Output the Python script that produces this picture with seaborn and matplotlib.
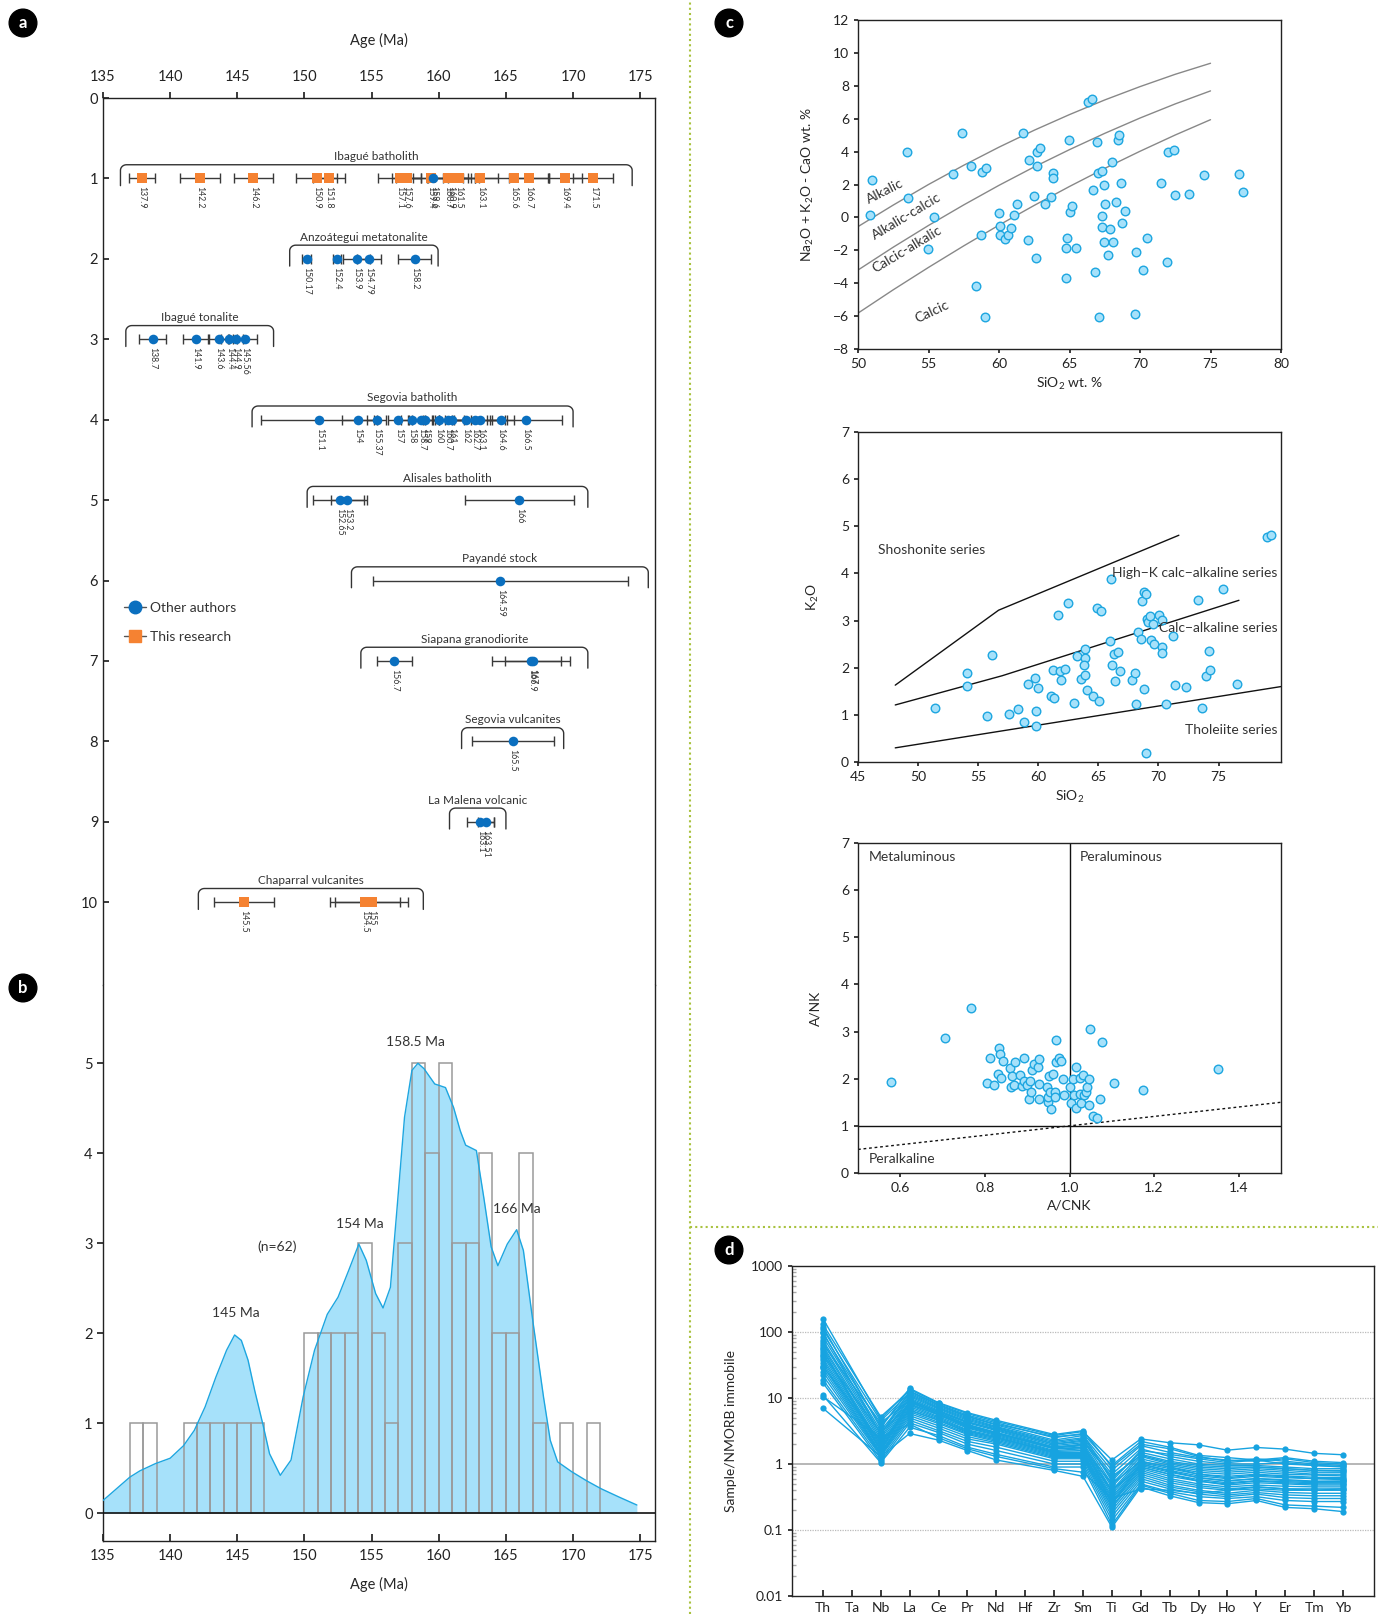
import numpy as np
import pandas as pd
import matplotlib
matplotlib.use("Agg")
import matplotlib.pyplot as plt
import seaborn as sns
from matplotlib.lines import Line2D

# ---------------- data: panel a (geochronology) ----------------
group_names = ["Ibagué batholith", "Anzoátegui metatonalite", "Ibagué tonalite",
               "Segovia batholith", "Alisales batholith", "Payandé stock",
               "Siapana granodiorite", "Segovia vulcanites", "La Malena volcanic",
               "Chaparral vulcanites"]
group_rows = [1, 2, 3, 4, 5, 6, 7, 8, 9, 10]
group_lo = [136.3, 148.9, 136.7, 146.1, 150.2, 153.5, 154.2, 161.7, 160.8, 142.1]
group_hi = [174.4, 159.95, 147.7, 170.0, 171.1, 175.6, 171.1, 169.3, 165.0, 158.85]

sample_group = [0]*17 + [1]*5 + [2]*6 + [3]*15 + [4]*3 + [5] + [6]*3 + [7] + [8]*2 + [9]*3
sample_age = [137.9, 142.2, 146.2, 150.9, 151.8, 157.1, 157.6, 159.4, 159.6, 160.7, 160.9,
              161.5, 163.1, 165.6, 166.7, 169.4, 171.5,
              150.17, 152.4, 153.9, 154.79, 158.2,
              138.7, 141.9, 143.6, 144.4, 144.9, 145.56,
              151.1, 154, 155.37, 157, 158, 158.7, 159, 160, 160.7, 161, 162, 162.7, 163.1,
              164.6, 166.5,
              152.65, 153.2, 166,
              164.59,
              156.7, 166.9, 167,
              165.5,
              163.1, 163.51,
              145.5, 154.5, 155]
sample_err = [1.0, 1.5, 1.45, 1.5, 1.2, 1.6, 1.1, 1.3, 2.8, 1.5, 1.8,
              1.2, 1.3, 2.6, 1.5, 1.3, 1.5,
              0.35, 0.3, 1.0, 0.9, 1.25,
              1.0, 0.95, 0.7, 0.6, 0.5, 0.9,
              4.3, 1.2, 0.7, 0.8, 0.8, 1.0, 1.0, 1.0, 1.2, 1.4, 2.0, 2.2, 2.0,
              1.0, 2.7,
              2.0, 1.25, 4.05,
              9.5,
              1.3, 2.9, 2.1,
              3.05,
              1.0, 0.6,
              2.2, 2.6, 2.7]
sample_src = (["T"]*8 + ["O"] + ["T"]*8 + ["O"]*5 + ["O"]*6 + ["O"]*15 + ["O"]*3 + ["O"]
              + ["O"]*3 + ["O"] + ["O"]*2 + ["T"]*3)

# ---------------- data: panel b (histogram + probability curve) ----------------
hist_bin_left = list(range(137, 172))
hist_counts = [1, 1, 0, 0, 1, 1, 1, 1, 1, 1, 0, 0, 0, 2, 2, 2, 2, 3, 2, 1, 3, 5, 4, 5,
               3, 3, 4, 2, 2, 4, 1, 0, 1, 0, 1]
kde_age = [135.0, 137.0, 137.75, 138.9, 140.0, 141.0, 141.8, 142.6, 143.4, 144.2, 144.8,
           145.3, 145.8, 146.3, 146.9, 147.4, 148.2, 149.0, 149.9, 150.75, 151.7, 152.5,
           153.3, 154.05, 154.6, 155.3, 155.85, 156.4, 156.9, 157.45, 158.0, 158.45,
           158.9, 159.7, 160.5, 161.1, 161.6, 162.0, 162.8, 163.35, 163.9, 164.4, 165.1,
           165.8, 166.3, 167.0, 167.8, 168.3, 168.85, 169.9, 171.0, 172.1, 173.4, 174.75]
kde_val = [0.14, 0.40, 0.47, 0.55, 0.61, 0.75, 0.92, 1.18, 1.51, 1.81, 1.98,
           1.92, 1.70, 1.36, 0.99, 0.66, 0.42, 0.59, 1.29, 1.81, 2.21, 2.40,
           2.70, 2.99, 2.81, 2.44, 2.28, 2.51, 3.40, 4.40, 4.92, 5.0,
           4.94, 4.77, 4.73, 4.51, 4.25, 4.09, 4.03, 3.51, 2.96, 2.75, 2.99,
           3.15, 2.92, 2.14, 1.29, 0.81, 0.57, 0.46, 0.36, 0.27, 0.18, 0.09]
peak_labels = ["145 Ma", "154 Ma", "158.5 Ma", "166 Ma", "(n=62)"]
peak_x = [144.9, 154.1, 158.3, 165.8, 148.0]
peak_y = [2.16, 3.15, 5.17, 3.31, 2.89]

# ---------------- data: panel c top (MALI) ----------------
mali_x = [50.83, 51.0, 53.48, 53.57, 54.99, 55.42, 56.72, 57.40, 58.0, 58.35, 58.78, 58.75,
          59.06, 59.04, 59.98, 60.08, 60.08, 60.41, 60.65, 60.86, 61.07, 61.31, 61.73, 62.07,
          62.16, 62.51, 62.61, 62.66, 62.70, 62.92, 63.25, 63.72, 63.86, 63.86, 64.72, 64.72,
          64.81, 64.93, 65.07, 65.21, 65.45, 66.30, 66.58, 66.68, 66.84, 66.92, 66.99, 67.08,
          67.27, 67.29, 67.34, 67.46, 67.48, 67.53, 67.74, 67.88, 67.98, 68.12, 68.29, 68.43,
          68.48, 68.62, 68.69, 68.97, 69.64, 69.71, 70.18, 70.53, 71.46, 71.88, 72.00, 72.43,
          72.45, 73.44, 74.53, 76.99, 77.28]
mali_y = [0.16, 2.28, 3.96, 1.19, -1.91, 0.04, 2.61, 5.12, 3.11, -4.15, 2.77, -1.06,
          3.03, -6.08, 0.24, -0.55, -1.04, -1.30, -1.06, -0.63, 0.12, 0.81, 5.14, -1.40,
          3.46, 1.31, -2.45, 3.98, 3.15, 4.23, 0.83, 1.27, 2.67, 2.42, -3.67, -1.89,
          -1.28, 4.69, 0.32, 0.72, -1.87, 7.02, 7.20, 1.64, -3.30, 4.57, 2.67, -6.06,
          -0.57, 2.85, 0.06, -1.50, 1.96, 0.83, -2.31, -0.69, 3.34, -1.52, 0.93, 4.71,
          4.98, 2.10, -0.33, 0.38, -5.87, -2.11, -3.18, -1.24, 2.08, -2.70, 3.96, 4.10,
          1.37, 1.45, 2.59, 2.63, 1.53]
mali_line_x = [50, 52.5, 55, 57.5, 60, 62.5, 65, 67.5, 70, 72.5, 75]
mali_alkalic = [-0.56, 0.75, 2.0, 3.17, 4.27, 5.3, 6.25, 7.14, 7.95, 8.7, 9.37]
mali_alkcalc = [-3.2, -1.81, -0.49, 0.76, 1.95, 3.07, 4.12, 5.11, 6.04, 6.9, 7.69]
mali_calcalk = [-5.82, -4.4, -3.04, -1.73, -0.47, 0.73, 1.88, 2.98, 4.02, 5.01, 5.94]
mali_names = ["Alkalic", "Alkalic-calcic", "Calcic-alkalic", "Calcic"]
mali_name_x = [51.94, 53.43, 53.48, 55.28]
mali_name_y = [1.57, 0.06, -1.97, -5.71]
mali_name_rot = [27, 31, 31, 25]

# ---------------- data: panel c middle (K2O vs SiO2) ----------------
k2o_x = [51.39, 54.03, 54.11, 55.72, 56.14, 57.53, 58.33, 58.83, 59.17, 59.75, 59.81, 59.83,
         59.97, 61.03, 61.25, 61.31, 61.61, 61.81, 61.92, 62.22, 62.5, 62.97, 63.22, 63.56,
         63.86, 63.86, 63.83, 63.86, 64.03, 64.56, 64.86, 65.08, 65.22, 65.97, 66.08, 66.11,
         66.33, 66.42, 66.61, 66.78, 67.78, 68.06, 68.17, 68.28, 68.58, 68.61, 68.78, 68.81,
         68.94, 69.0, 69.06, 69.11, 69.28, 69.42, 69.53, 69.61, 70.06, 70.28, 70.31, 70.33,
         70.61, 71.25, 71.42, 72.31, 73.28, 73.64, 73.92, 74.17, 74.31, 75.36, 76.5, 79.0,
         79.36]
k2o_y = [1.14, 1.62, 1.89, 0.97, 2.28, 1.02, 1.13, 0.84, 1.66, 1.79, 1.09, 0.76,
         1.58, 1.40, 1.96, 1.35, 3.11, 1.94, 1.75, 1.97, 3.38, 1.26, 2.25, 1.77,
         2.40, 2.20, 2.05, 1.84, 1.53, 1.39, 3.26, 1.30, 3.20, 2.56, 3.89, 2.05,
         2.30, 1.71, 2.34, 1.93, 1.73, 1.89, 1.23, 2.76, 2.60, 3.41, 1.55, 3.61,
         0.20, 3.56, 3.03, 2.96, 3.09, 2.58, 2.92, 2.51, 3.11, 3.02, 2.45, 2.32,
         1.23, 2.68, 1.63, 1.60, 3.43, 1.14, 1.82, 2.35, 1.96, 3.66, 1.65, 4.77,
         4.82]
sho_line_x = [48.1, 56.7, 71.7]
sho_line_y = [1.63, 3.22, 4.81]
hik_line_x = [48.1, 57.0, 76.7]
hik_line_y = [1.21, 1.83, 3.43]
tho_line_x = [48.1, 80.2]
tho_line_y = [0.30, 1.60]

# ---------------- data: panel c bottom (Shand) ----------------
acnk = [0.577, 0.705, 0.768, 0.805, 0.812, 0.822, 0.830, 0.834, 0.835, 0.838, 0.843, 0.860,
        0.862, 0.865, 0.868, 0.870, 0.882, 0.888, 0.892, 0.892, 0.900, 0.904, 0.906, 0.910,
        0.911, 0.915, 0.925, 0.928, 0.928, 0.929, 0.946, 0.949, 0.950, 0.951, 0.953, 0.956,
        0.961, 0.965, 0.965, 0.967, 0.969, 0.976, 0.981, 0.984, 0.987, 1.002, 1.003, 1.008,
        1.011, 1.015, 1.016, 1.024, 1.026, 1.028, 1.031, 1.034, 1.038, 1.042, 1.045, 1.045,
        1.049, 1.056, 1.064, 1.073, 1.078, 1.105, 1.173, 1.351]
ank = [1.93, 2.86, 3.49, 1.91, 2.44, 1.86, 2.10, 2.66, 2.52, 2.01, 2.38, 2.23,
       1.82, 2.05, 1.87, 2.36, 2.07, 1.84, 2.44, 1.96, 1.87, 1.58, 1.96, 1.72,
       2.19, 2.31, 2.25, 2.42, 1.88, 1.58, 1.82, 1.50, 1.61, 2.06, 1.72, 1.36,
       2.10, 1.72, 1.62, 2.35, 2.83, 2.43, 2.38, 1.99, 1.66, 1.83, 1.48, 1.99,
       1.66, 2.25, 1.37, 2.02, 1.67, 1.48, 2.07, 1.65, 1.72, 1.83, 1.99, 1.44,
       3.05, 1.20, 1.16, 1.57, 2.78, 1.91, 1.77, 2.21]
shand_diag_x = [0.5, 1.5]
shand_diag_y = [0.5, 1.5]

# ---------------- data: panel d (spider diagram) ----------------
elements = ["Th", "Ta", "Nb", "La", "Ce", "Pr", "Nd", "Hf", "Zr", "Sm", "Ti", "Gd", "Tb",
            "Dy", "Ho", "Y", "Er", "Tm", "Yb"]
measured = ["Th", "Nb", "La", "Ce", "Pr", "Nd", "Zr", "Sm", "Ti", "Gd", "Tb", "Dy", "Ho",
            "Y", "Er", "Tm", "Yb"]
spider_samples = [
    [160, 4.8, 13.5, 8.3, 5.8, 4.4, 2.7, 3.1, 1.15, 2.4, 2.1, 1.95, 1.62, 1.78, 1.68, 1.45, 1.38],
    [130, 5.2, 12.8, 8.0, 5.5, 4.2, 2.5, 2.9, 0.95, 2.2, 1.8, 1.35, 1.25, 1.15, 1.25, 1.1, 1.05],
    [110, 4.5, 12.0, 7.5, 5.2, 3.9, 2.3, 2.7, 0.8, 1.9, 1.5, 1.25, 1.15, 1.1, 1.2, 1.05, 1.0],
    [95, 3.8, 11.5, 7.2, 5.0, 3.7, 2.2, 2.5, 0.7, 1.7, 1.3, 1.1, 1.0, 1.0, 1.05, 0.95, 0.92],
    [85, 3.2, 11.0, 7.0, 4.8, 3.6, 2.1, 2.4, 0.6, 1.5, 1.2, 1.0, 0.95, 0.95, 0.9, 0.85, 0.85],
    [75, 2.9, 10.5, 6.8, 4.6, 3.5, 2.0, 2.3, 0.5, 1.4, 1.1, 0.95, 0.9, 0.9, 0.85, 0.8, 0.8],
    [70, 2.6, 10.0, 6.5, 4.4, 3.3, 1.9, 2.1, 0.45, 1.3, 1.0, 0.85, 0.8, 0.85, 0.8, 0.75, 0.75],
    [62, 2.4, 9.6, 6.2, 4.2, 3.2, 1.8, 2.0, 0.4, 1.2, 0.95, 0.8, 0.75, 0.8, 0.75, 0.7, 0.7],
    [58, 2.2, 9.0, 6.0, 4.0, 3.0, 1.75, 1.9, 0.38, 1.1, 0.9, 0.75, 0.7, 0.75, 0.7, 0.68, 0.66],
    [52, 2.0, 8.6, 5.7, 3.8, 2.9, 1.7, 1.8, 0.35, 1.05, 0.85, 0.7, 0.65, 0.7, 0.66, 0.63, 0.62],
    [48, 1.9, 8.2, 5.5, 3.6, 2.8, 1.6, 1.7, 0.32, 1.0, 0.8, 0.66, 0.6, 0.65, 0.62, 0.6, 0.58],
    [44, 1.8, 7.8, 5.2, 3.5, 2.7, 1.55, 1.6, 0.3, 0.95, 0.75, 0.62, 0.56, 0.6, 0.58, 0.55, 0.55],
    [40, 1.7, 7.4, 5.0, 3.3, 2.6, 1.5, 1.5, 0.28, 0.9, 0.7, 0.58, 0.52, 0.56, 0.54, 0.52, 0.52],
    [37, 1.6, 7.0, 4.8, 3.2, 2.5, 1.45, 1.45, 0.26, 0.85, 0.65, 0.55, 0.48, 0.52, 0.5, 0.48, 0.48],
    [34, 1.5, 6.6, 4.6, 3.0, 2.4, 1.4, 1.4, 0.25, 0.8, 0.6, 0.5, 0.45, 0.48, 0.46, 0.45, 0.45],
    [31, 1.45, 6.2, 4.3, 2.9, 2.3, 1.35, 1.35, 0.23, 0.75, 0.56, 0.47, 0.42, 0.45, 0.42, 0.42, 0.42],
    [28, 1.4, 5.8, 4.1, 2.8, 2.2, 1.3, 1.3, 0.22, 0.7, 0.52, 0.44, 0.4, 0.42, 0.4, 0.4, 0.4],
    [25, 1.35, 5.4, 3.8, 2.6, 2.1, 1.25, 1.25, 0.2, 0.65, 0.48, 0.4, 0.36, 0.4, 0.37, 0.36, 0.36],
    [22, 1.3, 5.0, 3.5, 2.4, 2.0, 1.2, 1.2, 0.18, 0.6, 0.45, 0.38, 0.34, 0.37, 0.34, 0.33, 0.33],
    [19, 1.2, 4.6, 3.2, 2.2, 1.8, 1.1, 1.1, 0.16, 0.55, 0.42, 0.35, 0.32, 0.35, 0.31, 0.3, 0.3],
    [17, 1.1, 4.2, 3.0, 2.0, 1.6, 1.0, 1.0, 0.14, 0.5, 0.38, 0.32, 0.3, 0.32, 0.28, 0.27, 0.27],
    [11, 1.05, 3.6, 2.7, 1.8, 1.4, 0.9, 0.9, 0.12, 0.48, 0.36, 0.28, 0.27, 0.3, 0.24, 0.23, 0.22],
    [7, 1.3, 2.9, 2.3, 1.6, 1.15, 0.8, 0.65, 0.11, 0.45, 0.33, 0.26, 0.25, 0.28, 0.22, 0.21, 0.19],
    [10.5, 2.5, 4.0, 2.5, 1.7, 1.3, 0.85, 0.75, 0.3, 0.42, 0.4, 0.36, 0.4, 0.45, 0.42, 0.4, 0.42],
    [120, 3.5, 14, 8.5, 6.0, 4.6, 2.8, 3.2, 0.9, 2.0, 1.7, 1.3, 1.1, 1.2, 1.1, 1.0, 0.95],
    [100, 2.8, 12.5, 7.8, 5.3, 4.0, 2.6, 2.8, 0.55, 1.6, 1.4, 1.2, 1.05, 1.15, 1.0, 0.95, 0.9],
    [65, 4.2, 9.2, 6.3, 4.3, 3.4, 2.0, 2.2, 0.65, 1.35, 1.05, 0.9, 0.85, 0.9, 0.85, 0.8, 0.78],
    [45, 3.0, 8.0, 5.6, 3.7, 2.9, 1.7, 1.75, 0.5, 1.1, 0.9, 0.7, 0.62, 0.68, 0.64, 0.6, 0.6],
    [30, 2.2, 6.5, 4.6, 3.1, 2.5, 1.5, 1.5, 0.4, 0.9, 0.7, 0.55, 0.5, 0.55, 0.52, 0.5, 0.5],
    [55, 1.6, 8.8, 5.9, 3.9, 3.0, 1.8, 1.95, 0.25, 1.0, 0.78, 0.62, 0.55, 0.6, 0.56, 0.54, 0.55],
]

# ---------------- style ----------------
sns.set_theme(style="ticks")
plt.rcParams["font.family"] = ["Lato", "DejaVu Sans"]
plt.rcParams["mathtext.fontset"] = "custom"
plt.rcParams["mathtext.rm"] = "Lato"
plt.rcParams["mathtext.it"] = "Lato:italic"
plt.rcParams["mathtext.bf"] = "Lato:bold"
plt.rcParams["axes.linewidth"] = 1.0
plt.rcParams["axes.edgecolor"] = "#222222"
plt.rcParams["text.color"] = "#333333"
plt.rcParams["xtick.color"] = "#222222"
plt.rcParams["ytick.color"] = "#222222"

BLUE = "#0A6FBF"
ORANGE = "#F58232"
CYAN_FACE = "#A6E1FA"
CYAN_EDGE = "#1DA6E0"
SPIDER = "#17A3E0"

W, H = 1378, 1614
fig = plt.figure(figsize=(W/100, H/100), dpi=100)


def frac(l, t, r, b):
    return [l/W, 1-b/H, (r-l)/W, (b-t)/H]


# ---------------- panel a ----------------
ax_a = fig.add_axes(frac(103, 98, 655, 985))
ax_a.set_xlim(135, 176.1)
ax_a.set_ylim(11.03, 0)
ax_a.xaxis.tick_top()
ax_a.xaxis.set_label_position("top")
ax_a.set_xticks(range(135, 180, 5))
ax_a.set_yticks(range(0, 11))
ax_a.tick_params(axis="x", direction="out", labelsize=10.5, length=4, pad=6)
ax_a.tick_params(axis="y", direction="in", labelsize=10.5, length=4)
ax_a.spines["bottom"].set_visible(False)

df_a = pd.DataFrame({"group": sample_group, "age": sample_age, "err": sample_err,
                     "src": sample_src})
df_a["row"] = [group_rows[g] for g in df_a["group"]]

ax_a.errorbar(df_a["age"], df_a["row"], xerr=df_a["err"], fmt="none", ecolor="#3a3a3a",
              elinewidth=1.0, capsize=3.3, capthick=1.0, zorder=2)
sns.scatterplot(data=df_a[df_a.src == "T"], x="age", y="row", marker="s", color=ORANGE,
                s=62, linewidth=0, ax=ax_a, zorder=3, legend=False)
sns.scatterplot(data=df_a[df_a.src == "O"], x="age", y="row", marker="o", color=BLUE,
                s=48, linewidth=0, ax=ax_a, zorder=4, legend=False)
for a, r in zip(df_a["age"], df_a["row"]):
    ax_a.text(a, r + 0.1, f"{a:g}", rotation=-90, ha="center", va="top", fontsize=6.3,
              color="#333333")

for name, row, lo, hi in zip(group_names, group_rows, group_lo, group_hi):
    rx, ry = 0.45, 0.07
    top, foot = row - 0.17, row + 0.09
    t = np.linspace(0, np.pi/2, 10)
    xs = np.concatenate([[lo], lo + rx*(1-np.cos(t)), hi - rx + rx*np.sin(t), [hi]])
    ys = np.concatenate([[foot], top + ry*(1-np.sin(t)), top + ry*(1-np.cos(t)), [foot]])
    ax_a.plot(xs, ys, color="#333333", lw=1.0)
    ax_a.text((lo+hi)/2, row - 0.27, name, ha="center", va="center", fontsize=8.5,
              color="#333333")

handles = [Line2D([0], [0], color="#555555", lw=1.0, marker="o", ms=9, mfc=BLUE, mec=BLUE),
           Line2D([0], [0], color="#555555", lw=1.0, marker="s", ms=9, mfc=ORANGE, mec=ORANGE)]
ax_a.legend(handles, ["Other authors", "This research"], loc="upper left",
            bbox_to_anchor=(0.015, 0.446), frameon=False, fontsize=10, handlelength=1.6,
            handletextpad=0.3, labelspacing=1.25)
ax_a.set_xlabel("Age (Ma)", fontsize=10.5, labelpad=18)
ax_a.set_ylabel("")

# ---------------- panel b ----------------
ax_b = fig.add_axes(frac(103, 985, 655, 1541))
ax_b.set_xlim(135, 176.1)
ax_b.set_ylim(-0.31, 5.87)
ax_b.fill_between(kde_age, kde_val, 0, color=CYAN_FACE, lw=0, zorder=1)
ax_b.plot(kde_age, kde_val, color=CYAN_EDGE, lw=1.0, zorder=3)
edges = hist_bin_left + [hist_bin_left[-1] + 1]
sns.histplot(x=[b + 0.5 for b in hist_bin_left], weights=hist_counts, bins=edges,
             fill=False, color="#9a9a9a", linewidth=1.1, ax=ax_b, zorder=2)
ax_b.axhline(0, color="#111111", lw=1.2, zorder=4)
ax_b.set_xticks(range(135, 180, 5))
ax_b.set_yticks(range(0, 6))
ax_b.tick_params(axis="x", direction="in", labelsize=10.5, length=5, pad=6)
ax_b.tick_params(axis="y", direction="out", labelsize=10.5, length=4)
ax_b.set_xlabel("Age (Ma)", fontsize=10.5, labelpad=10)
ax_b.set_ylabel("")
ax_b.spines["top"].set_visible(False)
for s, x, y in zip(peak_labels, peak_x, peak_y):
    ax_b.text(x, y, s, ha="center", va="bottom", fontsize=10, color="#333333")

# ---------------- panel c top ----------------
ax_c1 = fig.add_axes(frac(858, 20, 1281, 349))
ax_c1.set_xlim(50, 80)
ax_c1.set_ylim(-8, 12)
for ly in (mali_alkalic, mali_alkcalc, mali_calcalk):
    ax_c1.plot(mali_line_x, ly, color="#888888", lw=1.0)
sns.scatterplot(x=mali_x, y=mali_y, s=38, color=CYAN_FACE, edgecolor=CYAN_EDGE,
                linewidth=1.0, ax=ax_c1, zorder=3)
for s, x, y, r in zip(mali_names, mali_name_x, mali_name_y, mali_name_rot):
    ax_c1.text(x, y, s, rotation=r, ha="center", va="center", fontsize=10, color="#333333")
ax_c1.set_xticks(range(50, 85, 5))
ax_c1.set_yticks(range(-8, 14, 2))
ax_c1.tick_params(labelsize=10, length=3)
ax_c1.set_xlabel(r"SiO$_2$ wt. %", fontsize=10, labelpad=4)
ax_c1.set_ylabel(r"Na$_2$O + K$_2$O - CaO wt. %", fontsize=10, labelpad=12)

# ---------------- panel c middle ----------------
ax_c2 = fig.add_axes(frac(858, 432, 1281, 762))
ax_c2.set_xlim(45, 80.2)
ax_c2.set_ylim(0, 7)
ax_c2.plot(sho_line_x, sho_line_y, color="#111111", lw=1.0)
ax_c2.plot(hik_line_x, hik_line_y, color="#111111", lw=1.0)
ax_c2.plot(tho_line_x, tho_line_y, color="#111111", lw=1.0)
sns.scatterplot(x=k2o_x, y=k2o_y, s=38, color=CYAN_FACE, edgecolor=CYAN_EDGE,
                linewidth=1.0, ax=ax_c2, zorder=3)
ax_c2.text(46.7, 4.5, "Shoshonite series", fontsize=10, va="center", ha="left")
ax_c2.text(79.9, 4.01, "High\u2212K calc\u2212alkaline series", fontsize=10, va="center",
           ha="right")
ax_c2.text(79.9, 2.84, "Calc\u2212alkaline series", fontsize=10, va="center", ha="right")
ax_c2.text(79.9, 0.68, "Tholeiite series", fontsize=10, va="center", ha="right")
ax_c2.set_xticks(range(45, 80, 5))
ax_c2.set_yticks(range(0, 8))
ax_c2.tick_params(labelsize=10, length=3)
ax_c2.set_xlabel(r"SiO$_2$", fontsize=10, labelpad=4)
ax_c2.set_ylabel(r"K$_2$O", fontsize=10, labelpad=14)

# ---------------- panel c bottom ----------------
ax_c3 = fig.add_axes(frac(858, 843, 1281, 1173))
ax_c3.set_xlim(0.5, 1.5)
ax_c3.set_ylim(0, 7)
ax_c3.axvline(1.0, color="#111111", lw=1.0)
ax_c3.axhline(1.0, color="#111111", lw=1.0)
ax_c3.plot(shand_diag_x, shand_diag_y, color="#111111", lw=1.0, ls=(0, (2, 2)))
sns.scatterplot(x=acnk, y=ank, s=38, color=CYAN_FACE, edgecolor=CYAN_EDGE,
                linewidth=1.0, ax=ax_c3, zorder=3)
ax_c3.text(0.525, 6.7, "Metaluminous", fontsize=10, va="center", ha="left")
ax_c3.text(1.025, 6.7, "Peraluminous", fontsize=10, va="center", ha="left")
ax_c3.text(0.525, 0.3, "Peralkaline", fontsize=10, va="center", ha="left")
ax_c3.set_xticks([0.6, 0.8, 1.0, 1.2, 1.4])
ax_c3.set_xticklabels(["0.6", "0.8", "1.0", "1.2", "1.4"])
ax_c3.set_yticks(range(0, 8))
ax_c3.tick_params(labelsize=10, length=3)
ax_c3.set_xlabel("A/CNK", fontsize=10, labelpad=4)
ax_c3.set_ylabel("A/NK", fontsize=10, labelpad=14)

# ---------------- panel d ----------------
ax_d = fig.add_axes(frac(792, 1266, 1374, 1596))
rows = []
for i, vals in enumerate(spider_samples):
    for el, v in zip(measured, vals):
        rows.append({"sample": i, "pos": elements.index(el), "value": v})
df_d = pd.DataFrame(rows)
for y in (0.1, 10, 100):
    ax_d.axhline(y, color="#bbbbbb", lw=0.9, ls=(0, (1, 1)), zorder=0)
ax_d.axhline(1, color="#aaaaaa", lw=1.2, zorder=0)
sns.lineplot(data=df_d, x="pos", y="value", units="sample", estimator=None,
             color=SPIDER, lw=1.0, marker="o", markersize=4.5, markeredgewidth=0,
             ax=ax_d, zorder=3)
ax_d.set_yscale("log")
ax_d.set_ylim(0.01, 1000)
ax_d.set_xlim(-1.07, 19.07)
ax_d.set_xticks(range(len(elements)))
ax_d.set_xticklabels(elements)
ax_d.set_yticks([0.01, 0.1, 1, 10, 100, 1000])
ax_d.set_yticklabels(["0.01", "0.1", "1", "10", "100", "1000"])
ax_d.tick_params(axis="x", direction="in", length=4, labelsize=10, pad=4)
ax_d.tick_params(axis="y", which="major", direction="out", length=3, labelsize=10)
ax_d.tick_params(axis="y", which="minor", direction="in", length=3, color="#aaaaaa")
ax_d.set_xlabel("")
ax_d.set_ylabel("Sample/NMORB immobile", fontsize=10, labelpad=10)

# ---------------- panel letters and separators ----------------
for s, xp, yp in (("a", 23, 23), ("b", 23, 988), ("c", 729, 23), ("d", 729, 1250)):
    fig.text(xp/W, 1-yp/H, s, ha="center", va="center", color="white", fontsize=12,
             fontweight="bold",
             bbox=dict(boxstyle="circle,pad=0.35", fc="black", ec="black"))

fig.add_artist(Line2D([690/W, 690/W], [0, 1], transform=fig.transFigure, color="#A9C23F",
                      lw=1.5, ls=(0, (1, 1.5))))
fig.add_artist(Line2D([690/W, 1], [1-1227/H, 1-1227/H], transform=fig.transFigure,
                      color="#A9C23F", lw=1.5, ls=(0, (1, 1.5))))

fig.savefig("out.png", dpi=100)
